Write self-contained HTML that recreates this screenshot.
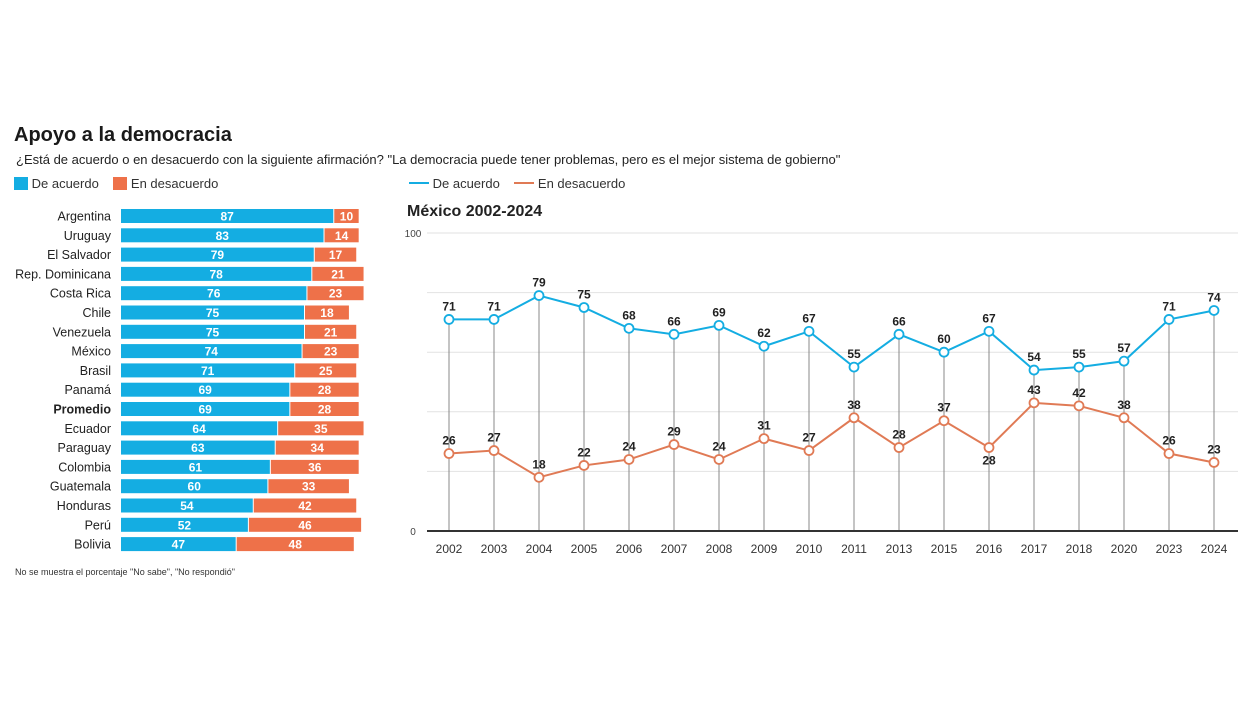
<!DOCTYPE html>
<html><head><meta charset="utf-8">
<style>
body{margin:0;width:1253px;height:705px;background:#fff;font-family:"Liberation Sans","DejaVu Sans",sans-serif;overflow:hidden;position:relative}
.t{position:absolute;white-space:nowrap;color:#222}
</style></head>
<body>
<div class="t" style="left:14px;top:124px;font-size:20px;font-weight:bold;color:#1a1a1a">Apoyo a la democracia</div>
<div class="t" style="left:16px;top:152px;font-size:13px;">¿Está de acuerdo o en desacuerdo con la siguiente afirmación? "La democracia puede tener problemas, pero es el mejor sistema de gobierno"</div>
<div class="t" style="left:14px;top:176px;font-size:13px;color:#333">
<span style="display:inline-block;width:14px;height:13px;background:#14ade2;vertical-align:-2px"></span> De acuerdo &nbsp;&nbsp;
<span style="display:inline-block;width:14px;height:13px;background:#ee7149;vertical-align:-2px"></span> En desacuerdo</div>
<div class="t" style="left:409px;top:176px;font-size:13px;color:#333">
<span style="display:inline-block;width:20px;height:2px;background:#14ade2;vertical-align:4px"></span> De acuerdo &nbsp;&nbsp;
<span style="display:inline-block;width:20px;height:2px;background:#e07a55;vertical-align:4px"></span> En desacuerdo</div>
<div class="t" style="left:407px;top:203px;font-size:16px;font-weight:bold;color:#222">México 2002-2024</div>
<div class="t" style="left:15px;top:567px;font-size:9px;color:#333">No se muestra el porcentaje "No sabe", "No respondió"</div>
<svg id="s" width="1253" height="705" style="position:absolute;left:0;top:0"></svg>
<script>
const countries=["Argentina","Uruguay","El Salvador","Rep. Dominicana","Costa Rica","Chile","Venezuela","México","Brasil","Panamá","Promedio","Ecuador","Paraguay","Colombia","Guatemala","Honduras","Perú","Bolivia"];
const agree=[87,83,79,78,76,75,75,74,71,69,69,64,63,61,60,54,52,47];
const disagree=[10,14,17,21,23,18,21,23,25,28,28,35,34,36,33,42,46,48];
const years=["2002","2003","2004","2005","2006","2007","2008","2009","2010","2011","2013","2015","2016","2017","2018","2020","2023","2024"];
const mxAgree=[71,71,79,75,68,66,69,62,67,55,66,60,67,54,55,57,71,74];
const mxDisagree=[26,27,18,22,24,29,24,31,27,38,28,37,28,43,42,38,26,23];
const yTicks=[0,100];
const grid=[20,40,60,80,100];
const NS="http://www.w3.org/2000/svg",s=document.getElementById('s');
function el(t,a,txt){const e=document.createElementNS(NS,t);for(const k in a)e.setAttribute(k,a[k]);if(txt!=null)e.textContent=txt;s.appendChild(e);return e;}
const BLUE="#14ade2",ORANGE="#ee7149",LORANGE="#e07a55";
const bx=v=>121+v*2.44, rowY=i=>209+i*19.3;
countries.forEach((c,i)=>{
  const y=rowY(i);
  let e=el('text',{x:111,y:y+11.5,'text-anchor':'end','font-size':12.5,fill:'#222','font-weight':c==="Promedio"?'bold':'normal'},c);
  
  e=el('rect',{x:121,y:y,width:bx(agree[i])-121,height:14,fill:BLUE});
  
  const x2=bx(agree[i])+1;
  e=el('rect',{x:x2,y:y,width:disagree[i]*2.44,height:14,fill:ORANGE});
  
  e=el('text',{x:(121+bx(agree[i]))/2,y:y+11.5,'text-anchor':'middle','font-size':12,'font-weight':'bold',fill:'#fff'},agree[i]);
  
  e=el('text',{x:x2+disagree[i]*1.22,y:y+11.5,'text-anchor':'middle','font-size':12,'font-weight':'bold',fill:'#fff'},disagree[i]);
  
});
const lx=i=>449+i*45, ly=v=>531-v*2.98;
grid.forEach(g=>{const e=el('line',{x1:427,x2:1238,y1:ly(g),y2:ly(g),stroke:'#e2e2e2','stroke-width':1});
  });
yTicks.forEach(t=>{const e=el('text',{x:413,y:ly(t)+4,'text-anchor':'middle','font-size':10,fill:'#444'},t);
  });
years.forEach((yr,i)=>{
  let e=el('line',{x1:lx(i),x2:lx(i),y1:ly(mxAgree[i]),y2:531,stroke:'#888','stroke-width':1});
  
  e=el('text',{x:lx(i),y:553,'text-anchor':'middle','font-size':12,fill:'#333'},yr);
  
});
let e=el('line',{x1:427,x2:1238,y1:531,y2:531,stroke:'#333','stroke-width':2});

[[mxAgree,BLUE,'agree'],[mxDisagree,LORANGE,'disagree']].forEach(([d,c,n])=>{
  let p=el('polyline',{points:d.map((v,i)=>lx(i)+','+ly(v)).join(' '),fill:'none',stroke:c,'stroke-width':2});
  
  d.forEach((v,i)=>{
    let m=el('circle',{cx:lx(i),cy:ly(v),r:4.5,fill:'#fff',stroke:c,'stroke-width':1.8});
    
    const below=(n==='disagree'&&d[i]<d[i-1]&&d[i]<(d[i+1]||0)&&i===12);
    m=el('text',{x:lx(i),y:below?ly(v)+17:ly(v)-9,'text-anchor':'middle','font-size':12,'font-weight':'bold',fill:'#222'},v);
    
  });
});
</script>
</body></html>
